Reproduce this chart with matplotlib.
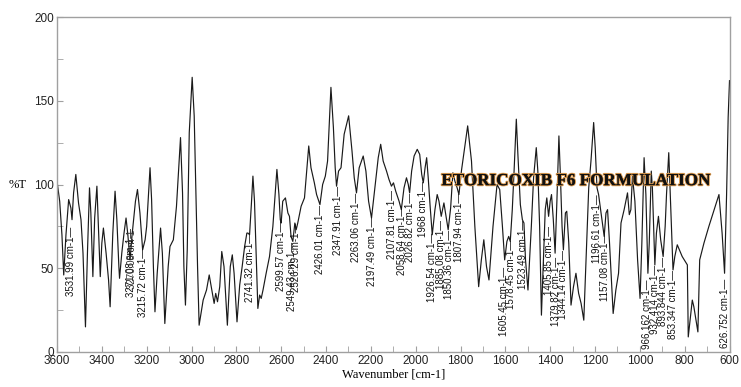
#! /usr/bin/env python3
# FTIR spectrum of the etoricoxib F6 formulation, redrawn as out.png

import matplotlib
matplotlib.use("Agg")
import matplotlib.pyplot as plt
import matplotlib.patheffects as pe
from matplotlib.ticker import MultipleLocator

# spectrum: wavenumber (cm-1) and %T
wavenumber = [
    3600, 3588, 3578, 3570, 3560, 3548, 3538, 3533, 3526, 3516, 3504, 3493,
    3484, 3473, 3464, 3455, 3449, 3440, 3432, 3422, 3415, 3407, 3400, 3393,
    3381, 3370, 3363, 3351, 3341, 3333, 3324, 3321, 3311, 3301, 3292, 3284,
    3274, 3265, 3250, 3241, 3230, 3218, 3207, 3200, 3185, 3178, 3170, 3163,
    3153, 3138, 3130, 3119, 3104, 3096, 3081, 3067, 3049, 3040, 3034, 3027,
    3019, 3010, 2997, 2988, 2978, 2973, 2966, 2948, 2933, 2921, 2907, 2899,
    2892, 2884, 2874, 2865, 2855, 2840, 2827, 2818, 2810, 2797, 2785, 2774,
    2763, 2753, 2748, 2741, 2733, 2726, 2719, 2711, 2704, 2696, 2689, 2681,
    2667, 2652, 2637, 2619, 2610, 2604, 2600, 2593, 2581, 2570, 2563, 2556,
    2548, 2539, 2533, 2526, 2511, 2496, 2486, 2477, 2467, 2452, 2442, 2427,
    2415, 2403, 2393, 2378, 2367, 2359, 2353, 2344, 2333, 2319, 2299, 2284,
    2274, 2264, 2252, 2234, 2222, 2210, 2197, 2182, 2167, 2156, 2145, 2130,
    2119, 2108, 2099, 2089, 2074, 2064, 2052, 2041, 2033, 2027, 2018, 2007,
    1993, 1982, 1973, 1966, 1958, 1951, 1944, 1936, 1926, 1914, 1904, 1896,
    1886, 1874, 1867, 1855, 1844, 1834, 1825, 1815, 1807, 1796, 1768, 1751,
    1736, 1719, 1707, 1696, 1684, 1673, 1655, 1637, 1625, 1613, 1603, 1593,
    1585, 1578, 1569, 1561, 1551, 1544, 1533, 1524, 1517, 1510, 1499, 1484,
    1474, 1462, 1455, 1447, 1439, 1430, 1422, 1415, 1407, 1400, 1394, 1386,
    1378, 1370, 1361, 1354, 1347, 1341, 1332, 1326, 1317, 1307, 1296, 1285,
    1273, 1262, 1250, 1240, 1228, 1218, 1206, 1199, 1191, 1184, 1173, 1159,
    1151, 1144, 1136, 1119, 1107, 1095, 1084, 1070, 1055, 1047, 1040, 1033,
    1022, 1010, 999, 991, 981, 973, 964, 958, 949, 944, 933, 926,
    917, 907, 896, 887, 881, 871, 862, 852, 844, 833, 811, 788,
    784, 766, 759, 741, 733, 714, 692, 647, 633, 622, 613, 606,
    600,
]
transmittance = [
    102, 90, 70, 46, 70, 91, 86, 79, 95, 106, 89, 79,
    59, 15, 60, 98, 83, 45, 80, 99, 73, 45, 65, 74,
    59, 43, 27, 71, 96, 79, 51, 44, 59, 71, 80, 70,
    55, 70, 90, 97, 83, 61, 67, 75, 110, 91, 51, 24,
    47, 74, 59, 17, 51, 63, 67, 87, 128, 95, 51, 28,
    61, 131, 164, 141, 81, 51, 16, 31, 37, 46, 35, 29,
    35, 30, 39, 60, 51, 16, 51, 58, 47, 18, 40, 51,
    63, 71, 71, 70, 88, 105, 90, 55, 26, 34, 32, 37,
    47, 57, 75, 109, 94, 79, 77, 90, 92, 83, 81, 69,
    66, 77, 73, 77, 87, 92, 108, 123, 110, 101, 94, 88,
    100, 105, 114, 158, 134, 110, 99, 108, 110, 130, 141, 120,
    104, 95, 110, 117, 108, 90, 80, 98, 116, 124, 114, 108,
    103, 99, 101, 96, 90, 85, 98, 104, 100, 95, 108, 117,
    121, 118, 106, 101, 110, 116, 104, 88, 70, 85, 94, 90,
    81, 89, 83, 73, 86, 107, 102, 98, 94, 108, 135, 114,
    75, 39, 55, 67, 51, 43, 75, 100, 97, 75, 55, 66,
    69, 66, 85, 108, 139, 118, 88, 79, 77, 55, 37, 75,
    104, 122, 108, 75, 22, 55, 85, 92, 81, 90, 94, 79,
    59, 90, 129, 104, 75, 61, 83, 84, 65, 28, 39, 47,
    35, 29, 19, 55, 98, 114, 137, 122, 98, 94, 83, 69,
    83, 85, 67, 23, 37, 47, 77, 85, 95, 82, 85, 105,
    90, 55, 32, 65, 116, 94, 47, 65, 108, 98, 52, 71,
    81, 67, 57, 75, 94, 119, 85, 49, 57, 64, 57, 52,
    9, 31, 27, 12, 55, 65, 75, 94, 71, 47, 94, 140,
    162,
]

# peak labels: text, x position (cm-1), %T where the label ends
peak_text = [
    "3531.99", "3271.08", "3215.72", "2741.32", "2599.57", "2549.43",
    "2526.29", "2426.01", "2347.91", "2263.06", "2197.49", "2107.81",
    "2058.64", "2026.82", "1968", "1926.54", "1885.08", "1850.36",
    "1807.94", "1605.45", "1578.45", "1523.49", "1405.85", "1379.82",
    "1344.14", "1196.61", "1157.08", "966.162", "932.414", "893.844",
    "853.347", "626.752",
]
peak_x = [
    3536, 3271, 3215, 2741, 2600, 2553,
    2533, 2427, 2348, 2264, 2197, 2104,
    2062, 2025, 1966, 1926, 1887, 1852,
    1807, 1607, 1573, 1521, 1406, 1376,
    1341, 1191, 1156, 966, 932, 896,
    852, 621,
]
peak_top = [
    75, 74, 62, 71, 78, 66,
    77, 88, 99, 95, 81, 97,
    87, 95, 102, 71, 79, 73,
    95, 51, 67, 79, 75, 57,
    61, 94, 71, 43, 52, 57,
    49, 44,
]

TITLE = "ETORICOXIB F6 FORMULATION"
FRAME_COLOR = "#a0a0a0"


def draw_spectrum(ax):
    ax.plot(wavenumber, transmittance, color="#1a1a1a", lw=0.85)
    for txt, x, top in zip(peak_text, peak_x, peak_top):
        ax.text(x, top, txt + " cm-1\u2014", rotation=90, ha="center", va="top",
                fontsize=7, family="Liberation Sans", color="#111111")
    # the 3271 label is printed twice on top of itself in the original
    ax.text(3266, 73, "3270.08 cm-1", rotation=90, ha="center", va="top",
            fontsize=7, family="Liberation Sans", color="#333333")


def style_axes(ax):
    ax.set_xlim(3600, 600)
    ax.set_ylim(0, 200)
    ax.xaxis.set_major_locator(MultipleLocator(200))
    ax.xaxis.set_minor_locator(MultipleLocator(100))
    ax.yaxis.set_major_locator(MultipleLocator(50))
    ax.yaxis.set_minor_locator(MultipleLocator(25))
    ax.tick_params(which="both", direction="in", length=4, color=FRAME_COLOR,
                   top=False, right=False, labelsize=8.5, pad=2, labelcolor="#222222")
    for lab in ax.get_xticklabels() + ax.get_yticklabels():
        lab.set_family("Liberation Sans")
    for sp in ax.spines.values():
        sp.set_color(FRAME_COLOR)
        sp.set_linewidth(1.0)
    ax.set_xlabel("Wavenumber [cm-1]", family="Liberation Serif", fontsize=9, labelpad=1)
    ax.text(-0.045, 100, "%T", transform=ax.get_yaxis_transform(), ha="right", va="center",
            family="Liberation Serif", fontsize=9)


if __name__ == "__main__":
    fig = plt.figure(figsize=(7.41, 3.87), dpi=100)
    ax = fig.add_axes([57 / 741, 35 / 387, 672.5 / 741, 335 / 387])
    draw_spectrum(ax)
    style_axes(ax)
    ax.text(1885, 102, TITLE, ha="left", va="center", family="Liberation Serif",
            fontweight="bold", fontsize=12.3, color="#111111",
            path_effects=[pe.withStroke(linewidth=1.5, foreground="#d8984e"), pe.Normal()])
    fig.savefig("out.png", dpi=100)
